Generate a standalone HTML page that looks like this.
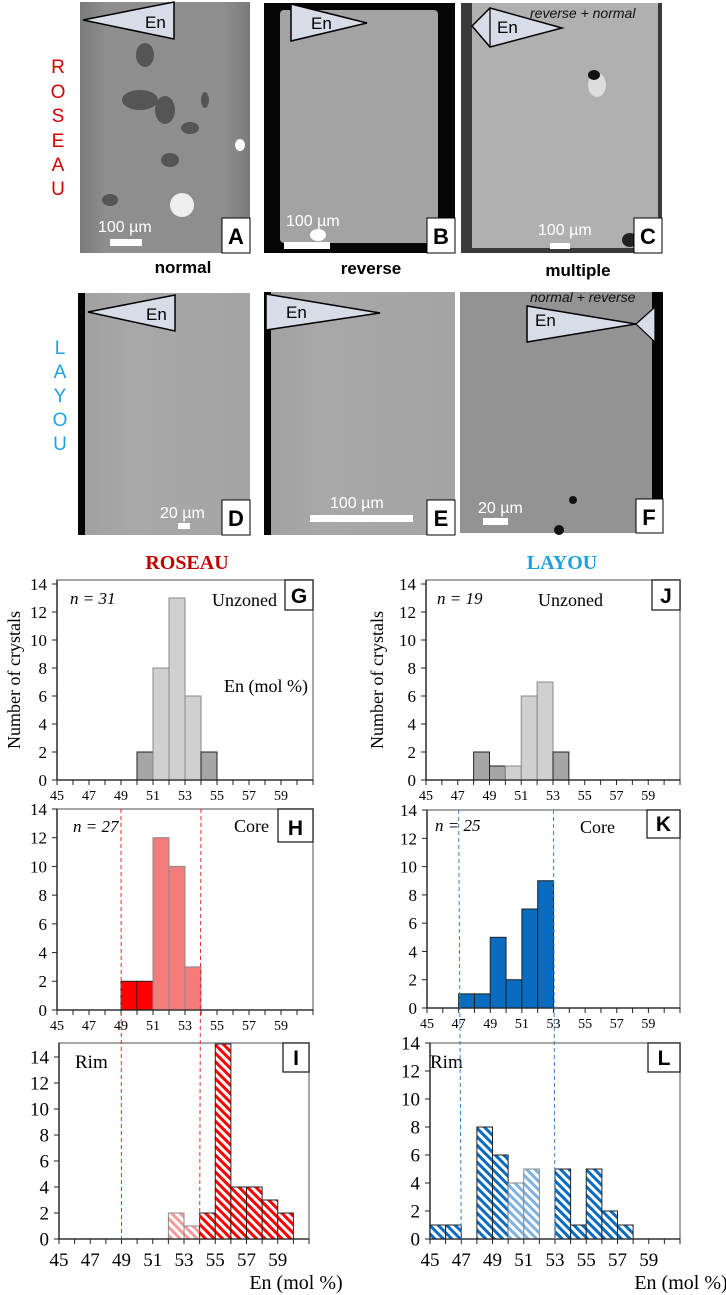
<!DOCTYPE html>
<html><head><meta charset="utf-8"><style>
html,body{margin:0;padding:0;background:#fff;}
svg{display:block;}
.serif{font-family:"Liberation Serif",serif;}
.sans{font-family:"Liberation Sans",sans-serif;}
</style></head><body>
<svg id="fig" width="726" height="1295" viewBox="0 0 726 1295" xmlns="http://www.w3.org/2000/svg">
<defs>
<pattern id="hatchRed" patternUnits="userSpaceOnUse" width="6" height="6" patternTransform="rotate(-45)"><rect width="6" height="6" fill="#fff"/><rect width="3" height="6" fill="#ff0000"/></pattern>
<pattern id="hatchRedLight" patternUnits="userSpaceOnUse" width="6" height="6" patternTransform="rotate(-45)"><rect width="6" height="6" fill="#fff"/><rect width="3" height="6" fill="#f49a9a"/></pattern>
<pattern id="hatchBlue" patternUnits="userSpaceOnUse" width="6" height="6" patternTransform="rotate(-45)"><rect width="6" height="6" fill="#fff"/><rect width="3" height="6" fill="#0a6cc0"/></pattern>
<pattern id="hatchBlueLight" patternUnits="userSpaceOnUse" width="6" height="6" patternTransform="rotate(-45)"><rect width="6" height="6" fill="#fff"/><rect width="3" height="6" fill="#7fb2e0"/></pattern>
<linearGradient id="gA" x1="0" x2="1"><stop offset="0" stop-color="#7a7a7a"/><stop offset="0.15" stop-color="#8e8e8e"/><stop offset="0.85" stop-color="#8e8e8e"/><stop offset="1" stop-color="#7a7a7a"/></linearGradient>
<linearGradient id="gL" x1="0" x2="1"><stop offset="0" stop-color="#a0a0a0"/><stop offset="0.3" stop-color="#a8a8a8"/><stop offset="1" stop-color="#a4a4a4"/></linearGradient>
</defs>

<!-- ROSEAU SEM row -->
<g>
<rect x="80" y="2" width="170" height="251" fill="url(#gA)"/>
<ellipse cx="140" cy="100" rx="18" ry="10" fill="#555"/><ellipse cx="165" cy="110" rx="10" ry="14" fill="#555"/>
<ellipse cx="190" cy="128" rx="9" ry="6" fill="#555"/><ellipse cx="170" cy="160" rx="9" ry="7" fill="#555"/>
<ellipse cx="145" cy="55" rx="9" ry="12" fill="#555"/><ellipse cx="205" cy="100" rx="4" ry="8" fill="#555"/>
<ellipse cx="182" cy="205" rx="12" ry="12" fill="#eee"/><ellipse cx="240" cy="145" rx="5" ry="6" fill="#fff"/>
<ellipse cx="110" cy="200" rx="8" ry="6" fill="#555"/>
</g>
<g>
<rect x="264" y="3" width="191" height="250" fill="#050505"/>
<rect x="280" y="10" width="158" height="233" rx="4" fill="#a3a3a3"/>
<ellipse cx="318" cy="235" rx="8" ry="6" fill="#fff"/>
</g>
<g>
<rect x="461" y="3" width="201" height="250" fill="#3a3a3a"/>
<rect x="472" y="3" width="186" height="245" fill="#b0b0b0"/>
<ellipse cx="597" cy="85" rx="9" ry="12" fill="#ddd"/><ellipse cx="594" cy="75" rx="6" ry="5" fill="#111"/>
<ellipse cx="630" cy="240" rx="8" ry="7" fill="#222"/>
</g>
<g class="sans">
<polygon points="83,20 174,2 174,39" fill="#d8dce8" stroke="#000" stroke-width="1.5"/>
<text x="145" y="28" font-size="17">En</text>
<polygon points="291,4 291,41 367,23" fill="#d8dce8" stroke="#000" stroke-width="1.5"/>
<text x="311" y="29" font-size="17">En</text>
<polygon points="472,26 490,8 562,28 490,47" fill="#d8dce8" stroke="#000" stroke-width="1.5"/>
<line x1="490" y1="8" x2="490" y2="47" stroke="#000" stroke-width="1.2"/>
<text x="497" y="33" font-size="17">En</text>
<text x="530" y="18" font-size="14" font-style="italic" fill="#111">reverse + normal</text>
<text x="98" y="232" font-size="16" fill="#fff">100 µm</text>
<rect x="110" y="239" width="32" height="7" fill="#fff"/>
<text x="286" y="226" font-size="16" fill="#fff">100 µm</text>
<rect x="284" y="242" width="46" height="7" fill="#fff"/>
<text x="538" y="235" font-size="16" fill="#fff">100 µm</text>
<rect x="550" y="243" width="20" height="6" fill="#fff"/>
<rect x="222" y="218" width="28" height="35" fill="#fff" stroke="#000"/><text x="236" y="244" font-size="22" font-weight="bold" text-anchor="middle">A</text>
<rect x="427" y="218" width="28" height="35" fill="#fff" stroke="#000"/><text x="441" y="244" font-size="22" font-weight="bold" text-anchor="middle">B</text>
<rect x="634" y="218" width="28" height="35" fill="#fff" stroke="#000"/><text x="648" y="244" font-size="22" font-weight="bold" text-anchor="middle">C</text>
<text x="183" y="273" font-size="17" font-weight="bold" text-anchor="middle">normal</text>
<text x="371" y="274" font-size="17" font-weight="bold" text-anchor="middle">reverse</text>
<text x="578" y="276" font-size="17" font-weight="bold" text-anchor="middle">multiple</text>
</g>
<g class="sans" fill="#d40000" font-size="19" text-anchor="middle">
<text x="58" y="73">R</text><text x="58" y="98">O</text><text x="58" y="122">S</text><text x="58" y="147">E</text><text x="58" y="171">A</text><text x="58" y="195">U</text>
</g>

<!-- LAYOU SEM row -->
<g>
<rect x="80" y="293" width="170" height="242" fill="url(#gL)"/><rect x="78" y="293" width="7" height="242" fill="#050505"/>
</g>
<g>
<rect x="264" y="292" width="191" height="243" fill="url(#gL)"/><rect x="264" y="292" width="7" height="243" fill="#050505"/>
</g>
<g>
<rect x="460" y="292" width="203" height="241" fill="#939393"/><rect x="652" y="292" width="11" height="241" fill="#050505"/>
<circle cx="573" cy="500" r="4" fill="#111"/><circle cx="559" cy="530" r="5" fill="#111"/>
</g>
<g class="sans">
<polygon points="88,312 175,295 175,331" fill="#d8dce8" stroke="#000" stroke-width="1.5"/>
<text x="146" y="320" font-size="17">En</text>
<polygon points="266,294 266,330 380,313" fill="#d8dce8" stroke="#000" stroke-width="1.5"/>
<text x="286" y="318" font-size="17">En</text>
<polygon points="527,306 527,342 636,324" fill="#d8dce8" stroke="#000" stroke-width="1.5"/>
<polygon points="636,324 655,307 655,342" fill="#d8dce8" stroke="#000" stroke-width="1.2"/>
<text x="535" y="326" font-size="17">En</text>
<text x="530" y="302" font-size="14" font-style="italic" fill="#111">normal + reverse</text>
<text x="160" y="518" font-size="16" fill="#fff">20 µm</text>
<rect x="178" y="523" width="12" height="6" fill="#fff"/>
<text x="330" y="508" font-size="16" fill="#fff">100 µm</text>
<rect x="310" y="515" width="103" height="7" fill="#fff"/>
<text x="478" y="513" font-size="16" fill="#fff">20 µm</text>
<rect x="483" y="518" width="25" height="7" fill="#fff"/>
<rect x="222" y="500" width="28" height="35" fill="#fff" stroke="#000"/><text x="236" y="526" font-size="22" font-weight="bold" text-anchor="middle">D</text>
<rect x="427" y="500" width="28" height="35" fill="#fff" stroke="#000"/><text x="441" y="526" font-size="22" font-weight="bold" text-anchor="middle">E</text>
<rect x="636" y="499" width="27" height="34" fill="#fff" stroke="#000"/><text x="649" y="525" font-size="22" font-weight="bold" text-anchor="middle">F</text>
</g>
<g class="sans" fill="#1ea0e6" font-size="19" text-anchor="middle">
<text x="60" y="354">L</text><text x="60" y="378">A</text><text x="60" y="402">Y</text><text x="60" y="426">O</text><text x="60" y="450">U</text>
</g>

<!-- headings -->
<text class="serif" x="187" y="569" font-size="20" font-weight="bold" fill="#c00000" text-anchor="middle">ROSEAU</text>
<text class="serif" x="562" y="569" font-size="20" font-weight="bold" fill="#1ea0e6" text-anchor="middle">LAYOU</text>
<text class="serif" transform="translate(20,680) rotate(-90)" font-size="18" text-anchor="middle">Number of crystals</text>
<text class="serif" transform="translate(383,680) rotate(-90)" font-size="18" text-anchor="middle">Number of crystals</text>
<text class="serif" x="296" y="1289" font-size="20" text-anchor="middle">En (mol %)</text>
<text class="serif" x="681" y="1289" font-size="20" text-anchor="middle">En (mol %)</text>

<g id="charts"></g>
</svg>
<script>
// bin start values (En mol %), each bin is 1 unit wide
const gBins = [50, 51, 52, 53, 54];
const gCounts = [2, 8, 13, 6, 2];
const gTones = ['dark', 'light', 'light', 'light', 'dark'];
const hBins = [49, 50, 51, 52, 53];
const hCounts = [2, 2, 12, 10, 3];
const hTones = ['dark', 'dark', 'light', 'light', 'light'];
const iBins = [52, 53, 54, 55, 56, 57, 58, 59];
const iCounts = [2, 1, 2, 15, 4, 4, 3, 2];
const iTones = ['light', 'light', 'dark', 'dark', 'dark', 'dark', 'dark', 'dark'];
const jBins = [48, 49, 50, 51, 52, 53];
const jCounts = [2, 1, 1, 6, 7, 2];
const jTones = ['dark', 'dark', 'light', 'light', 'light', 'dark'];
const kBins = [47, 48, 49, 50, 51, 52];
const kCounts = [1, 1, 5, 2, 7, 9];
const kTones = ['dark', 'dark', 'dark', 'dark', 'dark', 'dark'];
const lBins = [45, 46, 48, 49, 50, 51, 53, 54, 55, 56, 57];
const lCounts = [1, 1, 8, 6, 4, 5, 5, 1, 5, 2, 1];
const lTones = ['dark', 'dark', 'dark', 'dark', 'light', 'light', 'dark', 'dark', 'dark', 'dark', 'dark'];
const xTickLabels = [45, 47, 49, 51, 53, 55, 57, 59];
const yTicksSmall = [0, 2, 4, 6, 8, 10, 12, 14];
const roseauBounds = [49, 54];
const layouBounds = [47, 53];

const NS = 'http://www.w3.org/2000/svg';
const root = document.getElementById('charts');
function el(tag, attrs, parent) {
  const e = document.createElementNS(NS, tag);
  for (const k in attrs) e.setAttribute(k, attrs[k]);
  (parent || root).appendChild(e);
  return e;
}
function makeScales(p) {
  return {
    x: v => p.x0 + (v - 45) * (p.x1 - p.x0) / 16,
    y: v => p.zero - v * p.ppu
  };
}
function drawPanel(p) {
  const s = makeScales(p);
  const g = el('g', {});
  
  
  const fr = el('rect', {x: p.x0, y: p.top, width: p.x1 - p.x0, height: p.zero - p.top, fill: '#fff', stroke: '#777', 'stroke-width': 1.3}, g);
  
  
  p.bins.forEach((b, i) => {
    const c = p.counts[i];
    const r = el('rect', {x: s.x(b), y: s.y(c), width: s.x(b + 1) - s.x(b), height: s.y(0) - s.y(c),
      fill: p.fills[p.tones[i]], stroke: p.tones[i] === 'light' ? '#888' : '#222', 'stroke-width': 1}, g);
    
    
  });
  el('line', {x1: p.x0, y1: p.zero, x2: p.x1, y2: p.zero, stroke: '#222', 'stroke-width': 1.3}, g);
  el('line', {x1: p.x0, y1: p.top, x2: p.x0, y2: p.zero, stroke: '#222', 'stroke-width': 1.3}, g);
  for (let v = 45; v <= 61; v++) {
    el('line', {x1: s.x(v), y1: p.zero, x2: s.x(v), y2: p.zero + 5, stroke: '#222', 'stroke-width': 1}, g);
  }
  xTickLabels.forEach(v => {
    const t = el('text', {x: s.x(v), y: p.zero + p.xlOff, 'font-size': p.xfs, 'text-anchor': 'middle', class: 'serif'}, g);
    t.textContent = v;
    
    
  });
  p.yTicks.forEach(v => {
    el('line', {x1: p.x0 - 5, y1: s.y(v), x2: p.x0, y2: s.y(v), stroke: '#222', 'stroke-width': 1}, g);
    const t = el('text', {x: p.x0 - 10, y: s.y(v) + p.yfs * 0.35, 'font-size': p.yfs, 'text-anchor': 'end', class: 'serif'}, g);
    t.textContent = v;
    
    
  });
  const bx = el('rect', {x: p.box[0], y: p.box[1], width: p.box[2], height: p.box[3], fill: '#fff', stroke: '#222', 'stroke-width': 1.3}, g);
  
  
  const bt = el('text', {x: p.box[0] + p.box[2] / 2, y: p.box[1] + p.box[3] - 7, 'font-size': 21, 'font-weight': 'bold', 'text-anchor': 'middle', class: 'sans'}, g);
  bt.textContent = p.id.toUpperCase();
  
  
  p.texts.forEach(tx => {
    const t = el('text', {x: tx[0], y: tx[1], 'font-size': tx[3] || 18, 'font-style': tx[4] || 'normal', 'text-anchor': tx[5] || 'start', class: 'serif'}, g);
    t.textContent = tx[2];
    
    
  });
  return s;
}
const grayF = {dark: '#a6a6a6', light: '#d0d0d0'};
const G = {id: 'g', x0: 57, x1: 313, zero: 780, top: 580, ppu: 14, bins: gBins, counts: gCounts, tones: gTones, fills: grayF,
  xfs: 14, xlOff: 20, yfs: 17, yTicks: yTicksSmall, box: [285, 580, 28, 30],
  texts: [[70, 604, 'n = 31', 17, 'italic'], [277, 606, 'Unzoned', 18, 'normal', 'end'], [224, 692, 'En (mol %)', 18]]};
const H = {id: 'h', x0: 57, x1: 313, zero: 1010, top: 809, ppu: 14.36, bins: hBins, counts: hCounts, tones: hTones, fills: {dark: '#ff0000', light: '#f47c7c'},
  xfs: 14, xlOff: 20, yfs: 17, yTicks: yTicksSmall, box: [278, 809, 35, 33],
  texts: [[73, 832, 'n = 27', 17, 'italic'], [234, 832, 'Core', 18]]};
const I = {id: 'i', x0: 59, x1: 309, zero: 1239, top: 1043, ppu: 13, bins: iBins, counts: iCounts, tones: iTones, fills: {dark: 'url(#hatchRed)', light: 'url(#hatchRedLight)'},
  xfs: 19, xlOff: 27, yfs: 19, yTicks: [0, 2, 4, 6, 8, 10, 12, 14], box: [283, 1043, 26, 29],
  texts: [[75, 1068, 'Rim', 19]]};
const J = {id: 'j', x0: 426, x1: 680, zero: 780, top: 580, ppu: 14, bins: jBins, counts: jCounts, tones: jTones, fills: grayF,
  xfs: 14, xlOff: 20, yfs: 17, yTicks: yTicksSmall, box: [652, 580, 28, 30],
  texts: [[437, 604, 'n = 19', 17, 'italic'], [603, 606, 'Unzoned', 18, 'normal', 'end']]};
const K = {id: 'k', x0: 427, x1: 680, zero: 1008, top: 810, ppu: 14.14, bins: kBins, counts: kCounts, tones: kTones, fills: {dark: '#0a6cc0', light: '#0a6cc0'},
  xfs: 14, xlOff: 20, yfs: 17, yTicks: yTicksSmall, box: [647, 810, 33, 28],
  texts: [[435, 831, 'n = 25', 17, 'italic'], [580, 833, 'Core', 18]]};
const L = {id: 'l', x0: 430, x1: 680, zero: 1239, top: 1043, ppu: 14, bins: lBins, counts: lCounts, tones: lTones, fills: {dark: 'url(#hatchBlue)', light: 'url(#hatchBlueLight)'},
  xfs: 19, xlOff: 27, yfs: 19, yTicks: yTicksSmall, box: [648, 1043, 32, 29],
  texts: [[430, 1068, 'Rim', 19]]};
[G, J].forEach(drawPanel);
const sH = drawPanel(H); const sI = drawPanel(I);
const sK = drawPanel(K); const sL = drawPanel(L);
roseauBounds.forEach(v => {
  const d = el('line', {x1: sH.x(v), y1: H.top, x2: sI.x(v), y2: I.zero, stroke: '#e03030', 'stroke-width': 1, 'stroke-dasharray': '4,3'});
  
  
});
layouBounds.forEach(v => {
  const d = el('line', {x1: sK.x(v), y1: K.top, x2: sL.x(v), y2: L.zero, stroke: '#3080d0', 'stroke-width': 1, 'stroke-dasharray': '4,3'});
  
  
});
</script>
</body></html>
